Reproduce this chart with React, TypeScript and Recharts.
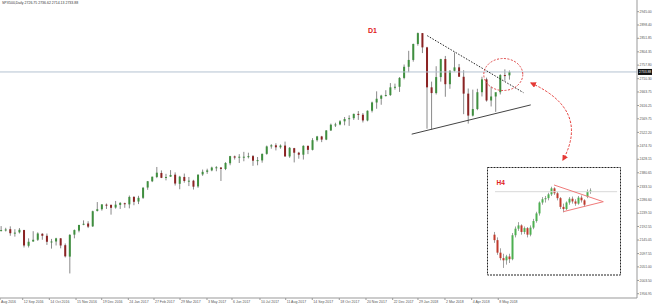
import React from "react";
import { Bar, ComposedChart, ReferenceDot, ReferenceLine, XAxis, YAxis } from "recharts";

// D1 candles, each one covers ~4 trading days (Aug 2016 .. May 2018)
const opens = [
  2178, 2180, 2183, 2170, 2172, 2180, 2125, 2140, 2146, 2167, 2160, 2138, 2140, 2151, 2127, 2087,
  2164, 2178, 2199, 2203, 2193, 2247, 2253, 2269, 2268, 2259, 2268, 2274, 2270, 2296, 2280, 2293,
  2329, 2351, 2366, 2380, 2363, 2367, 2374, 2342, 2366, 2352, 2353, 2333, 2375, 2384, 2389, 2399,
  2399, 2394, 2414, 2438, 2434, 2436, 2437, 2439, 2424, 2424, 2447, 2473, 2477, 2470, 2476, 2438,
  2467, 2451, 2444, 2475, 2461, 2495, 2508, 2497, 2529, 2549, 2550, 2561, 2569, 2572, 2587, 2584,
  2564, 2598, 2627, 2640, 2651, 2653, 2680, 2682, 2713, 2752, 2776, 2832, 2870, 2820, 2680, 2660,
  2716, 2779, 2691, 2738, 2750, 2717, 2658, 2581, 2604, 2663, 2708, 2634, 2648, 2663, 2723, 2722,
];
const highs = [
  2194, 2188, 2193, 2183, 2187, 2181, 2151, 2176, 2172, 2169, 2168, 2149, 2153, 2152, 2133, 2166,
  2182, 2198, 2214, 2211, 2248, 2278, 2270, 2273, 2270, 2282, 2278, 2276, 2301, 2299, 2300, 2331,
  2352, 2367, 2401, 2389, 2377, 2390, 2382, 2370, 2378, 2366, 2356, 2375, 2392, 2395, 2402, 2404,
  2401, 2418, 2440, 2441, 2446, 2454, 2451, 2443, 2436, 2448, 2476, 2481, 2484, 2480, 2490, 2471,
  2468, 2454, 2477, 2476, 2502, 2510, 2510, 2530, 2553, 2556, 2565, 2576, 2582, 2588, 2597, 2590,
  2599, 2630, 2666, 2654, 2670, 2695, 2693, 2716, 2760, 2808, 2833, 2872, 2870, 2822, 2700, 2754,
  2780, 2790, 2740, 2802, 2762, 2740, 2676, 2672, 2675, 2717, 2714, 2683, 2655, 2726, 2743, 2739,
];
const lows = [
  2175, 2175, 2160, 2157, 2168, 2119, 2119, 2139, 2142, 2146, 2128, 2115, 2126, 2116, 2084, 2028,
  2151, 2172, 2197, 2187, 2191, 2245, 2248, 2254, 2234, 2255, 2254, 2258, 2256, 2267, 2271, 2289,
  2321, 2348, 2362, 2362, 2354, 2367, 2336, 2323, 2346, 2334, 2322, 2328, 2370, 2377, 2386, 2386,
  2352, 2390, 2407, 2427, 2415, 2421, 2431, 2405, 2407, 2416, 2444, 2465, 2459, 2465, 2437, 2433,
  2417, 2430, 2427, 2446, 2459, 2490, 2488, 2495, 2527, 2541, 2547, 2547, 2545, 2566, 2566, 2557,
  2561, 2592, 2605, 2619, 2648, 2650, 2672, 2664, 2708, 2733, 2770, 2826, 2800, 2535, 2532, 2655,
  2700, 2647, 2675, 2735, 2732, 2586, 2553, 2578, 2600, 2648, 2630, 2613, 2594, 2655, 2703, 2707,
];
const closes = [
  2180, 2182, 2169, 2171, 2181, 2126, 2139, 2146, 2168, 2160, 2139, 2140, 2151, 2126, 2088, 2163,
  2180, 2198, 2202, 2192, 2246, 2253, 2270, 2268, 2258, 2269, 2275, 2271, 2296, 2279, 2293, 2328,
  2351, 2367, 2381, 2363, 2366, 2373, 2343, 2367, 2352, 2353, 2332, 2374, 2384, 2389, 2399, 2400,
  2394, 2415, 2439, 2434, 2437, 2437, 2439, 2423, 2425, 2447, 2473, 2477, 2470, 2476, 2438, 2468,
  2451, 2444, 2475, 2461, 2495, 2508, 2497, 2529, 2549, 2550, 2561, 2569, 2572, 2587, 2584, 2564,
  2598, 2627, 2640, 2651, 2653, 2680, 2682, 2713, 2752, 2776, 2832, 2870, 2820, 2680, 2660, 2716,
  2779, 2691, 2738, 2750, 2717, 2658, 2581, 2604, 2663, 2708, 2634, 2648, 2663, 2723, 2722, 2733.88,
];

// date labels and where they sit, in candle units (the first one is cut by the left edge)
const dateTickLabels = [
  "Aug 2016", "12 Sep 2016", "14 Oct 2016", "15 Nov 2016", "19 Dec 2016", "24 Jan 2017",
  "27 Feb 2017", "29 Mar 2017", "3 May 2017", "6 Jun 2017", "10 Jul 2017", "11 Aug 2017",
  "14 Sep 2017", "18 Oct 2017", "20 Nov 2017", "22 Dec 2017", "29 Jan 2018", "2 Mar 2018",
  "4 Apr 2018", "8 May 2018",
];
const dateTickPos = [
  0.3, 5.26, 11.07, 16.9, 22.51, 28.32, 33.93, 39.61, 45.5, 50.96, 57.07, 62.69, 68.49, 74.39,
  80.22, 86.05, 91.57, 97.47, 103.3, 109.1,
];
const priceTicks = [
  2945.0, 2898.4, 2851.85, 2804.35, 2757.8, 2710.3, 2663.75, 2616.25, 2569.75, 2522.2, 2474.7,
  2428.15, 2380.65, 2333.1, 2286.6, 2239.1, 2192.55, 2145.05, 2097.55, 2051.0, 2003.5, 1956.95,
];
const lastPrice = 2733.88;

// H4 inset candles
const h4Opens = [
  2655, 2645, 2622, 2612, 2608, 2615, 2610, 2654, 2666, 2672, 2660, 2667, 2655, 2668, 2680, 2694,
  2714, 2720, 2722, 2729, 2740, 2731, 2722, 2706, 2702, 2714, 2721, 2716, 2712, 2723, 2718, 2725, 2734,
];
const h4Highs = [
  2660, 2650, 2630, 2620, 2618, 2620, 2658, 2670, 2678, 2674, 2670, 2669, 2672, 2684, 2697, 2716,
  2724, 2726, 2732, 2743, 2742, 2734, 2724, 2712, 2716, 2724, 2725, 2720, 2726, 2727, 2720, 2738, 2740,
];
const h4Lows = [
  2640, 2618, 2608, 2594, 2600, 2603, 2608, 2650, 2662, 2655, 2656, 2650, 2652, 2665, 2677, 2690,
  2710, 2714, 2718, 2726, 2728, 2718, 2702, 2696, 2700, 2710, 2712, 2708, 2710, 2714, 2706, 2722, 2730,
];
const h4Closes = [
  2645, 2622, 2612, 2608, 2615, 2610, 2654, 2666, 2672, 2660, 2667, 2655, 2668, 2680, 2694, 2714,
  2720, 2722, 2729, 2740, 2731, 2722, 2706, 2702, 2714, 2721, 2716, 2712, 2723, 2718, 2710, 2734, 2736,
];

const candles = opens.map((o, i) => ({
  slot: i + 0.5,
  open: o,
  high: highs[i],
  low: lows[i],
  close: closes[i],
}));
const h4Candles = h4Opens.map((o, i) => ({
  slot: i,
  open: o,
  high: h4Highs[i],
  low: h4Lows[i],
  close: h4Closes[i],
}));

const font = "Arial, 'Liberation Sans', sans-serif";

function candleShape(up: string, down: string, wick: string, bodyW: number) {
  return (props: any) => {
    const { x, y, width, height, payload } = props;
    if (!payload) return <g />;
    const top = Math.min(y, y + height);
    const h = Math.abs(height);
    const span = payload.high - payload.low;
    const k = span > 0 ? h / span : 0;
    const cx = x + width / 2;
    const yO = top + (payload.high - payload.open) * k;
    const yC = top + (payload.high - payload.close) * k;
    return (
      <g>
        <line x1={cx} x2={cx} y1={top} y2={top + h} stroke={wick} strokeWidth={1} />
        <rect
          x={cx - bodyW / 2}
          y={Math.min(yO, yC)}
          width={bodyW}
          height={Math.max(1, Math.abs(yO - yC))}
          fill={payload.close >= payload.open ? up : down}
        />
      </g>
    );
  };
}

const DateTick = (props: any) => {
  const { x, y, payload } = props;
  const label = dateTickLabels[dateTickPos.indexOf(payload.value)];
  return (
    <g>
      <line x1={x} x2={x} y1={y} y2={y + 2} stroke="#999" />
      <text x={x + 1} y={y + 5.3} fontSize={3.5} fill="#555" fontFamily={font}>
        {label}
      </text>
    </g>
  );
};

const PriceTick = (props: any) => {
  const { x, y, payload } = props;
  return (
    <g>
      <line x1={x} x2={x + 2} y1={y} y2={y} stroke="#999" />
      <text x={x + 2.5} y={y + 1.2} fontSize={3.4} fill="#555" fontFamily={font}>
        {Number(payload.value).toFixed(2)}
      </text>
    </g>
  );
};

const PriceTag = (props: any) => {
  const vb = props.viewBox || { x: 0, y: 0, width: 0 };
  const x = vb.x + vb.width + 1;
  return (
    <g>
      <rect x={x} y={vb.y - 3} width={14} height={6} fill="#111" />
      <text x={x + 1} y={vb.y + 1.3} fontSize={3.4} fill="#fff" fontFamily={font}>
        {lastPrice.toFixed(2)}
      </text>
    </g>
  );
};

export default function App() {
  return (
    <div style={{ position: "absolute", left: 0, top: 0, width: 653, height: 305, background: "#fff" }}>
      <ComposedChart width={653} height={305} data={candles} margin={{ top: 0, right: 0, bottom: 0, left: 0 }}>
        <XAxis
          type="number"
          dataKey="slot"
          domain={[0.3, 139.4]}
          allowDataOverflow
          ticks={dateTickPos}
          interval={0}
          height={7}
          tickSize={0}
          tickMargin={0}
          tick={<DateTick />}
          axisLine={{ stroke: "#999" }}
        />
        <YAxis
          orientation="right"
          type="number"
          domain={[1942, 2986]}
          allowDataOverflow
          ticks={priceTicks}
          interval={0}
          width={16}
          tickSize={0}
          tickMargin={0}
          tick={<PriceTick />}
          axisLine={{ stroke: "#999" }}
        />
        <ReferenceLine y={lastPrice} stroke="#b4c2d2" strokeWidth={1} label={<PriceTag />} />
        <Bar
          dataKey={(d: any) => [d.low, d.high]}
          barSize={3}
          isAnimationActive={false}
          shape={candleShape("#3f8f3f", "#8b2323", "#8a8a8a", 2)}
        />
        <ReferenceLine
          segment={[{ x: 93.6, y: 2861 }, { x: 114.6, y: 2661.5 }]}
          stroke="#222"
          strokeDasharray="1.5 1.5"
          ifOverflow="visible"
        />
        <ReferenceLine
          segment={[{ x: 90.2, y: 2516 }, { x: 116.2, y: 2618.5 }]}
          stroke="#444"
          ifOverflow="visible"
        />
        <ReferenceDot
          x={110.2}
          y={2725}
          ifOverflow="visible"
          shape={(p: any) => (
            <ellipse cx={p.cx} cy={p.cy} rx={19.5} ry={16} fill="none" stroke="#e04848" strokeDasharray="2 1.5" />
          )}
        />
      </ComposedChart>

      <div style={{ position: "absolute", left: 487, top: 167, width: 134, height: 108, background: "#fff" }}>
        <ComposedChart width={134} height={108} data={h4Candles} margin={{ top: 0, right: 0, bottom: 0, left: 0 }}>
          <XAxis type="number" dataKey="slot" domain={[-2.667, 42]} allowDataOverflow hide />
          <YAxis type="number" domain={[2581, 2779.2]} allowDataOverflow hide />
          <ReferenceLine
            segment={[{ x: 0, y: lastPrice }, { x: 40.7, y: lastPrice }]}
            stroke="#d8d8d8"
            ifOverflow="visible"
          />
          <Bar
            dataKey={(d: any) => [d.low, d.high]}
            barSize={2}
            isAnimationActive={false}
            shape={candleShape("#4caf50", "#c0392b", "#a0a0a0", 2)}
          />
          <ReferenceLine
            segment={[{ x: 19.67, y: 2746.2 }, { x: 36.1, y: 2715.5 }]}
            stroke="#f07a7a"
            ifOverflow="visible"
          />
          <ReferenceLine
            segment={[{ x: 22.77, y: 2697.2 }, { x: 36.1, y: 2715.5 }]}
            stroke="#f07a7a"
            ifOverflow="visible"
          />
        </ComposedChart>
      </div>

      <svg
        width={653}
        height={305}
        style={{ position: "absolute", left: 0, top: 0, pointerEvents: "none" }}
      >
        <defs>
          <marker
            id="ah"
            viewBox="0 0 10 10"
            refX="8"
            refY="5"
            markerWidth="6"
            markerHeight="6"
            orient="auto-start-reverse"
          >
            <path d="M0,0 L10,5 L0,10 z" fill="#e53935" />
          </marker>
        </defs>
        <text x={2} y={4.4} fontSize={3.5} fill="#333" fontFamily={font}>
          SPX500,Daily  2726.75 2736.62 2714.13 2733.88
        </text>
        <text x={368} y={33} fontSize={7} fontWeight="bold" fill="#e02020" fontFamily={font}>
          D1
        </text>
        <path
          d="M 531 83 Q 590 110 563 160"
          fill="none"
          stroke="#e53935"
          strokeDasharray="2.5 1.5"
          markerStart="url(#ah)"
          markerEnd="url(#ah)"
        />
        <rect x={487.5} y={167.5} width={133} height={107.5} fill="none" stroke="#222" strokeDasharray="2 1" />
        <text x={496.5} y={184.5} fontSize={6.5} fontWeight="bold" fill="#e02020" fontFamily={font}>
          H4
        </text>
      </svg>
    </div>
  );
}
